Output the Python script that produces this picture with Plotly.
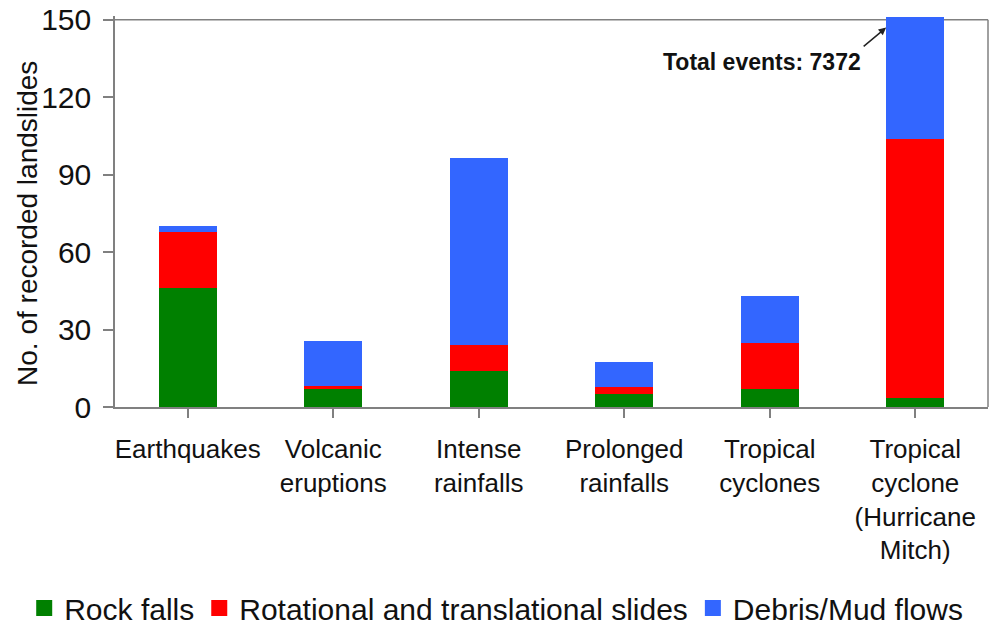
import plotly.graph_objects as go

categories = ["Earthquakes", "Volcanic<br>eruptions", "Intense<br>rainfalls",
              "Prolonged<br>rainfalls", "Tropical<br>cyclones",
              "Tropical<br>cyclone<br>(Hurricane<br>Mitch)"]
rock_falls = [46.3, 6.9, 13.8, 4.9, 6.9, 3.6]
slides = [21.4, 1.1, 10.2, 2.9, 17.9, 100.4]
debris_flows = [2.3, 17.6, 72.3, 9.8, 18.1, 47.2]
series_names = ["Rock falls", "Rotational and translational slides", "Debris/Mud flows"]
series_colors = ["#008000", "#FF0000", "#3366FF"]
y_ticks = [0, 30, 60, 90, 120, 150]
y_max = 150
y_title = "No. of recorded landslides"
annotation_text = "Total events: 7372"

FONT = "Liberation Sans, Arial, sans-serif"
AX = "#808080"
TXT = "#111111"

fig = go.Figure()
for name, vals, col in zip(series_names, [rock_falls, slides, debris_flows], series_colors):
    fig.add_trace(go.Bar(x=list(range(len(categories))), y=vals, name=name,
                         marker=dict(color=col, line=dict(width=0)),
                         width=0.4, showlegend=False))
    # legend entry with larger square symbol
    fig.add_trace(go.Scatter(x=[None], y=[None], mode="markers", name=name,
                             marker=dict(symbol="square", size=16, color=col),
                             showlegend=True))

fig.add_annotation(x=4.8, y=147, ax=-24, ay=20, axref="pixel", ayref="pixel",
                   text="", showarrow=True, arrowhead=2, arrowsize=1,
                   arrowwidth=1.5, arrowcolor="#222222")
fig.add_annotation(x=3.95, y=133.5, text="<b>" + annotation_text + "</b>",
                   showarrow=False, font=dict(size=23, color=TXT, family=FONT),
                   xanchor="center", yanchor="middle")
# y-axis title
fig.add_annotation(xref="paper", yref="paper", x=-0.1, y=0.47, text=y_title,
                   textangle=-90, showarrow=False, xanchor="center", yanchor="middle",
                   font=dict(size=28, color=TXT, family=FONT))

# frame (top and right) at the 150 level
fig.add_shape(type="line", xref="paper", yref="y", x0=0, x1=1, y0=y_max, y1=y_max,
              line=dict(color=AX, width=1.5), layer="below")
fig.add_shape(type="line", xref="paper", yref="y", x0=1, x1=1, y0=0, y1=y_max,
              line=dict(color=AX, width=1.5), layer="below")

fig.update_layout(
    barmode="stack",
    width=997, height=627,
    margin=dict(l=115, r=9, t=16, b=220, autoexpand=False),
    plot_bgcolor="white", paper_bgcolor="white",
    font=dict(family=FONT, color=TXT),
    legend=dict(orientation="h", xref="paper", yref="paper",
                x=-0.104, y=-0.514, xanchor="left", yanchor="middle",
                traceorder="normal",
                font=dict(size=30, family=FONT, color=TXT),
                itemwidth=30, tracegroupgap=0, bgcolor="rgba(0,0,0,0)"),
)
fig.update_xaxes(
    tickmode="array", tickvals=list(range(len(categories))), ticktext=categories,
    range=[-0.5, len(categories) - 0.5],
    showline=True, linecolor=AX, linewidth=1.5, mirror=False,
    ticks="outside", ticklen=9, tickcolor=AX, tickwidth=1.5,
    showgrid=False, zeroline=False, tickangle=0, ticklabelstandoff=9,
    tickfont=dict(size=26, family=FONT, color=TXT),
)
fig.update_yaxes(
    range=[0, 151.5], tickvals=y_ticks,
    showline=True, linecolor=AX, linewidth=1.5, mirror=False,
    ticks="outside", ticklen=10, tickcolor=AX, tickwidth=1.5,
    showgrid=False, zeroline=False, ticklabelstandoff=6, ticklabeloverflow="allow",
    tickfont=dict(size=30, family=FONT, color=TXT),
    automargin=False,
)
fig.write_html("out.html", config={"displayModeBar": False},
               post_script="document.body.style.margin='0';")
